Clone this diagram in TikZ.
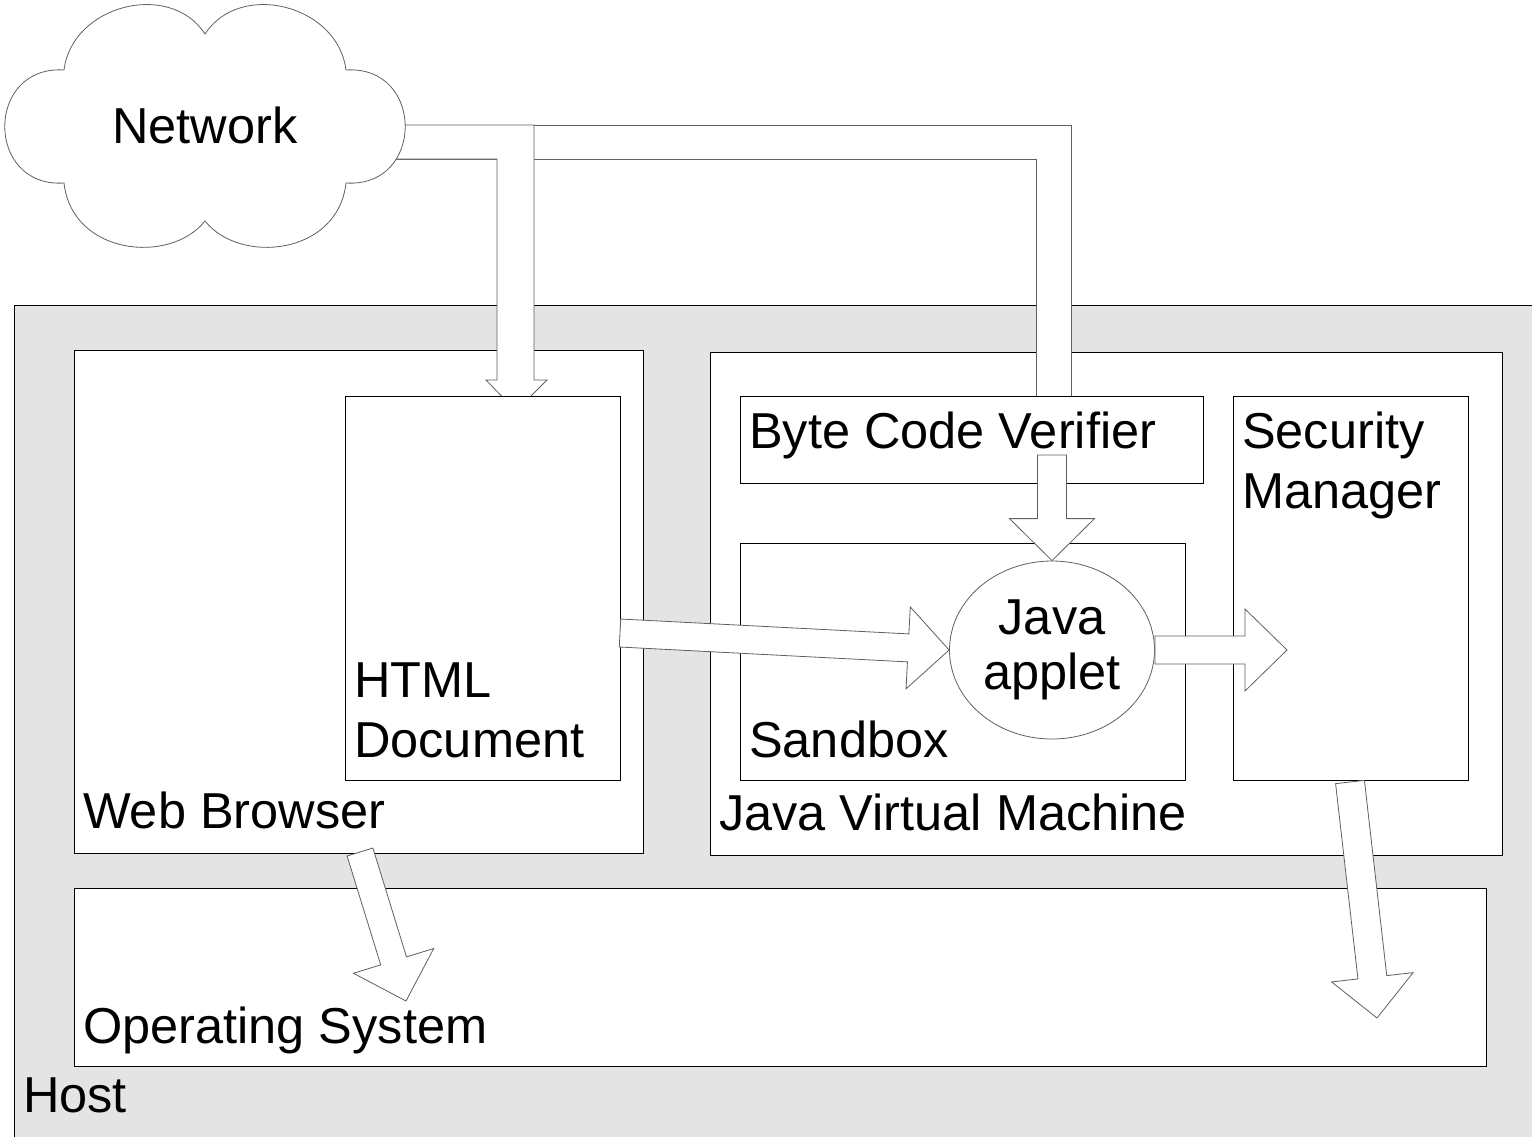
\documentclass[tikz,border=0pt]{standalone}
\usepackage{fontspec}
\setmainfont{Liberation Sans}
\usetikzlibrary{calc, shapes.geometric}
\definecolor{hostgray}{HTML}{E4E4E4}
\definecolor{arrowline}{HTML}{606060}
\newcommand{\labelfont}{\fontsize{50.5}{60}\selectfont}
% block arrow: from, to, half shaft, half head, head length
\newcommand{\blockarrow}[5]{%
  \coordinate (hb) at ($(#2)!#5!(#1)$);
  \draw[barrow] ($(#1)!#3!90:(#2)$) -- ($(hb)!#3!90:(#2)$) -- ($(hb)!#4!90:(#2)$) -- (#2)
    -- ($(hb)!#4!-90:(#2)$) -- ($(hb)!#3!-90:(#2)$) -- ($(#1)!#3!-90:(#2)$) -- cycle;
}
\begin{document}
\begin{tikzpicture}[x=1pt, y=-1pt]

\tikzset{box/.style = {draw, fill=white, line width=1pt, inner sep=0, anchor=north west}}
\tikzset{barrow/.style = {draw=arrowline, fill=white, line width=0.8pt, line join=miter}}
\tikzset{lbl/.style = {anchor=base west, inner sep=0, align=left, font=\labelfont}}
\useasboundingbox (0,0) rectangle (1532,1136);
% outer boxes
\node[box, fill=hostgray, minimum width=1540pt, minimum height=860pt] (host) at (14,305) {};
\node[box, minimum width=569pt, minimum height=503pt] (web) at (74,350) {};
\node[box, minimum width=792pt, minimum height=503pt] (jvm) at (710,352) {};
% network arrows
\draw[barrow] (390,125) -- (1071,125) -- (1071,410) -- (1036,410) -- (1036,159) -- (390,159) -- cycle;
\draw[barrow] (390,125) -- (534,125) -- (534,380) -- (547,380) -- (516,411) -- (486,380) -- (497,380) -- (497,159) -- (390,159) -- cycle;
% inner boxes
\node[box, minimum width=275pt, minimum height=384pt] (html) at (345,396) {};
\node[box, minimum width=463pt, minimum height=87pt] (bcv) at (740,396) {};
\node[box, minimum width=445pt, minimum height=237pt] (sandbox) at (740,543) {};
\node[box, minimum width=235pt, minimum height=384pt] (secmgr) at (1233,396) {};
\node[box, minimum width=1412pt, minimum height=178pt] (os) at (74,888) {};
\node[ellipse, draw=arrowline, fill=white, line width=0.8pt, minimum width=205pt, minimum height=178pt, inner sep=0, align=center, font=\fontsize{50.5}{55}\selectfont] (applet) at (1052,650) {Java\\applet};
% cloud
\draw[draw=arrowline, fill=white, line width=0.8pt] (64,70) .. controls (72,5) and (170,-20) .. (205,34)
  .. controls (240,-20) and (338,5) .. (346,70) .. controls (425,65) and (425,188) .. (346,183)
  .. controls (338,255) and (240,265) .. (205,221) .. controls (170,265) and (72,255) .. (64,183)
  .. controls (-15,188) and (-15,65) .. (64,70) -- cycle;
\node[font=\labelfont, inner sep=0, anchor=base] (net) at (205,143) {Network};
% labels
\node[lbl] (weblbl) at (83,828) {Web Browser};
\node[lbl] (htmllbl) at (354,757) {HTML\\Document};
\node[lbl] (bcvlbl) at (749,448) {Byte Code Verifier};
\node[lbl] (seclbl) at (1242,508) {Security\\Manager};
\node[lbl] (sandlbl) at (749,757) {Sandbox};
\node[lbl] (jvmlbl) at (719,830) {Java Virtual Machine};
\node[lbl] (oslbl) at (83,1043) {Operating System};
\node[lbl] (hostlbl) at (23,1112) {Host};
% arrows
\coordinate (htmlout) at (620,633);
\coordinate (bcvout) at (1052,455);
\coordinate (secin) at (1287,650);
\coordinate (webout) at (360,852);
\coordinate (osin1) at (406,1001);
\coordinate (secout) at (1350,782);
\coordinate (osin2) at (1377,1018);
\blockarrow{bcvout}{applet.north}{14.5pt}{42.5pt}{42pt}
\blockarrow{htmlout}{applet.west}{14pt}{41pt}{41pt}
\blockarrow{applet.east}{secin}{14pt}{41pt}{42pt}
\blockarrow{webout}{osin1}{13.5pt}{42pt}{42pt}
\blockarrow{secout}{osin2}{14.5pt}{41pt}{41pt}
\end{tikzpicture}
\end{document}
